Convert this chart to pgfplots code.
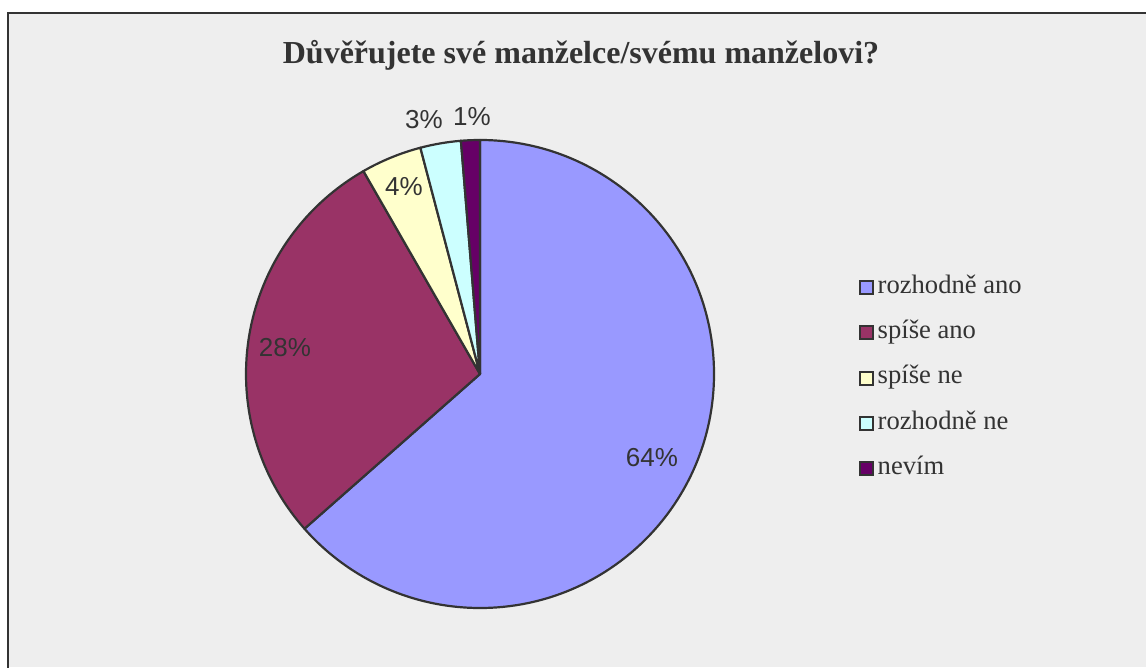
\documentclass[border=0pt]{standalone}
\usepackage{pgfplots}
\pgfplotsset{compat=1.18}
\usepackage{pgfplotstable}
\usepackage{fontspec}
\setmainfont{Liberation Serif}
\newfontfamily\arialfont{Liberation Sans}
\definecolor{pie0}{HTML}{9999FF}
\definecolor{pie1}{HTML}{993366}
\definecolor{pie2}{HTML}{FFFFCC}
\definecolor{pie3}{HTML}{CCFFFF}
\definecolor{pie4}{HTML}{660066}
\definecolor{edge}{HTML}{333333}
\definecolor{bg}{HTML}{EEEEEE}
\definecolor{txt}{HTML}{333333}

% shares (percent) of the five answers
\pgfplotstableread{
idx value
0 63.5
1 28.2
2 4.2
3 2.8
4 1.3
}\piedata

% positions of the percentage labels
\pgfplotstableread{
x y label
652 209 64
285 319 28
404 480 4
424 547 3
472 550 1
}\pielabels

\gdef\piecum{90}
\foreach \i in {0,...,4}{%
  \pgfplotstablegetelem{\i}{value}\of\piedata
  \pgfmathsetmacro\pieend{\piecum-3.6*\pgfplotsretval}%
  \expandafter\xdef\csname piesa\i\endcsname{\piecum}%
  \expandafter\xdef\csname pieea\i\endcsname{\pieend}%
  \xdef\piecum{\pieend}%
}

\begin{document}
\begin{tikzpicture}
\path[use as bounding box] (0,0) rectangle (1146pt,667pt);
\begin{axis}[x=1pt,y=1pt,xmin=0,xmax=1146,ymin=0,ymax=667,
  hide axis, clip=false, enlargelimits=false,
  legend style={at={(axis cs:859,393)}, anchor=north west, draw=none, fill=none,
    inner sep=0pt, row sep=20.3pt, font=\fontsize{26.6}{31}\selectfont, text=txt,
    nodes={inner xsep=3.5pt, inner ysep=0pt, text height=19pt, text depth=6pt}},
  legend cell align=left,
  legend image code/.code={\draw[#1] (0.5pt,-7.5pt) rectangle (13.5pt,5.5pt);},
]
\fill[bg] (axis cs:8,0) rectangle (axis cs:1146,654);
\draw[edge, line width=2.5pt] (axis cs:8,-5) -- (axis cs:8,654) -- (axis cs:1150,654);
\pgfplotsinvokeforeach{0,...,4}{
  \draw[fill=pie#1, draw=edge, line width=2.2pt, line join=round]
    (axis cs:480,293) -- ++(\csname piesa#1\endcsname:234pt)
    arc[start angle=\csname piesa#1\endcsname, end angle=\csname pieea#1\endcsname, radius=234pt] -- cycle;
}
\node[font=\fontsize{32}{38}\selectfont\bfseries, text=txt] at (axis cs:581,612) {Důvěřujete své manželce/svému manželovi?};
\addlegendimage{fill=pie0, draw=edge, line width=2pt}
\addlegendentry{rozhodně ano}
\addlegendimage{fill=pie1, draw=edge, line width=2pt}
\addlegendentry{spíše ano}
\addlegendimage{fill=pie2, draw=edge, line width=2pt}
\addlegendentry{spíše ne}
\addlegendimage{fill=pie3, draw=edge, line width=2pt}
\addlegendentry{rozhodně ne}
\addlegendimage{fill=pie4, draw=edge, line width=2pt}
\addlegendentry{nevím}
\addplot[only marks, mark=none, forget plot, point meta=explicit symbolic,
  nodes near coords={\pgfplotspointmeta\%},
  nodes near coords style={anchor=center, font=\arialfont\fontsize{26}{31}\selectfont, text=txt}]
  table[x=x,y=y,meta=label]{\pielabels};
\end{axis}
\end{tikzpicture}
\end{document}
